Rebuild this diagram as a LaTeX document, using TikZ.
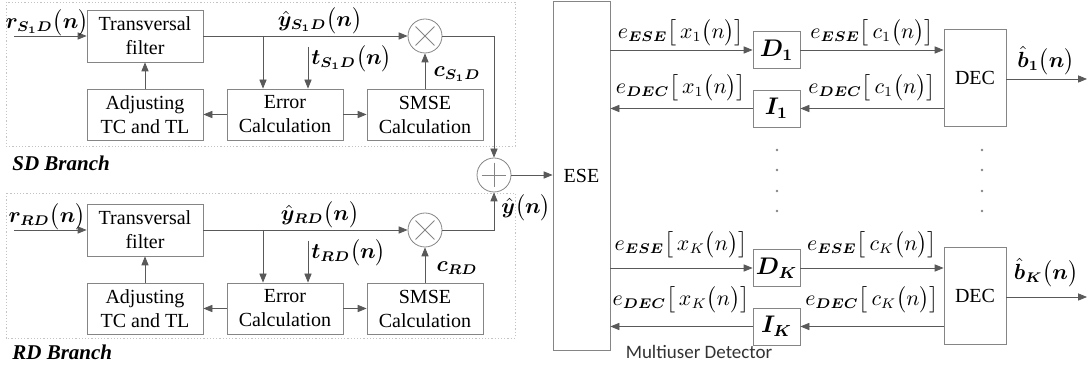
\documentclass[tikz,border=0pt]{standalone}
\usepackage{amsmath}
\usepackage{bm}
\usepackage{fontspec}
\setmainfont{Liberation Serif}
\newfontfamily\mudfont{Carlito}
\usetikzlibrary{positioning, arrows.meta}
\definecolor{wire}{HTML}{595959}
\definecolor{edge}{HTML}{858585}
\definecolor{frame}{HTML}{C4C4C4}

\begin{document}
\begin{tikzpicture}[x=0.5pt,y=-0.5pt,
  blk/.style={draw=edge,fill=white,minimum width=58pt,minimum height=25.5pt,align=center,inner sep=1pt,font=\fontsize{10}{12}\selectfont},
  ublk/.style={draw=edge,fill=white,minimum width=23.5pt,minimum height=18.5pt,inner sep=0pt,font=\fontsize{12}{14}\selectfont},
  op/.style={draw=edge,circle,minimum size=17pt,inner sep=0pt},
  sig/.style={draw=wire,-{Triangle[length=4.5pt,width=3.6pt]}},
  lab/.style={inner sep=0pt,font=\fontsize{10.5}{12}\selectfont},
  brch/.style={anchor=west,inner sep=0pt,font=\fontsize{10.5}{12}\selectfont\bfseries\itshape}]
\useasboundingbox (0,0) rectangle (1089,367);
\draw[frame,dash pattern=on 0.6pt off 1pt] (6,2) rectangle (515,146);
\draw[frame,dash pattern=on 0.6pt off 1pt] (6,193) rectangle (515,338);
\node[brch] (sdb) at (12,163) {SD Branch};
\node[brch] (rdb) at (12,352) {RD Branch};
\node[op] (sum) at (494,175) {};
\draw[edge,shorten <=2.5pt,shorten >=2.5pt] (sum.north) -- (sum.south);
\draw[edge,shorten <=2.5pt,shorten >=2.5pt] (sum.west) -- (sum.east);
\foreach \b/\dy/\s in {S/0/S_1D, R/194/RD} {
  \node[blk,minimum height=26pt] (tf\b) at (145,{36+\dy}) {Transversal\\filter};
  \node[blk] (ad\b) at (145,{114.5+\dy}) {Adjusting\\TC and TL};
  \node[blk] (er\b) at (285,{114.5+\dy}) {Error\\Calculation};
  \node[blk] (sm\b) at (425,{114.5+\dy}) {SMSE\\Calculation};
  \node[op] (mul\b) at (425,{36+\dy}) {};
  \draw[edge,shorten <=2pt,shorten >=2pt] (mul\b.north west) -- (mul\b.south east);
  \draw[edge,shorten <=2pt,shorten >=2pt] (mul\b.north east) -- (mul\b.south west);
  \coordinate (in\b) at (14,{36+\dy});
  \coordinate (tap\b) at (263,{36+\dy});
  \coordinate (t\b) at (308,{47+\dy});
  \draw[sig] (in\b) -- (tf\b.west);
  \draw[sig] (tf\b.east) -- (mul\b.west);
  \draw[sig] (tap\b) -- (tap\b |- er\b.north);
  \draw[sig] (t\b) -- (t\b |- er\b.north);
  \draw[sig] (er\b.west) -- (ad\b.east);
  \draw[sig] (er\b.east) -- (sm\b.west);
  \draw[sig] (ad\b.north) -- (tf\b.south);
  \draw[sig] (sm\b.north) -- (mul\b.south);
  \node[lab] (r\b) at (47,{23+\dy}) {$\bm{r_{\s}}\bigl(\bm{n}\bigr)$};
  \node[lab] (yh\b) at (320,{21+\dy}) {$\hat{\bm{y}}_{\bm{\s}}\bigl(\bm{n}\bigr)$};
  \node[lab,anchor=west] (tl\b) at (311,{59+\dy}) {$\bm{t_{\s}}\bigl(\bm{n}\bigr)$};
  \node[lab] (c\b) at (457,{74+\dy}) {$\bm{c_{\s}}$};
}
\draw[sig] (mulS.east) -| (sum.north);
\draw[sig] (mulR.east) -| (sum.south);
\node[lab] (yh) at (526,208) {$\hat{\bm{y}}\bigl(\bm{n}\bigr)$};
\node[draw=edge,minimum width=28.5pt,minimum height=174.5pt,inner sep=0pt,font=\fontsize{10}{12}\selectfont] (ese) at (581.5,175.5) {ESE};
\draw[sig] (sum.east) -- (sum.east -| ese.west);
\foreach \u/\dy/\ly in {1/0/0, K/218/212} {
  \node[ublk] (D\u) at (776.5,{50+\dy}) {$\bm{D_{\u}}$};
  \node[ublk] (I\u) at (776.5,{108.5+\dy}) {$\bm{I_{\u}}$};
  \node[draw=edge,minimum width=31pt,minimum height=48.5pt,inner sep=0pt,font=\fontsize{10}{12}\selectfont] (dec\u) at (975,{77.5+\dy}) {DEC};
  \coordinate (out\u) at (1087,{79+\dy});
  \draw[sig] (ese.east |- D\u.west) -- (D\u.west);
  \draw[sig] (D\u.east) -- (D\u.east -| dec\u.west);
  \draw[sig] (dec\u.west |- I\u.east) -- (I\u.east);
  \draw[sig] (I\u.west) -- (I\u.west -| ese.east);
  \draw[sig] (dec\u.east |- out\u) -- (out\u);
  \node[lab] (ex\u) at (681,{33+\ly}) {$e_{\bm{ESE}}\bigl[\,x_{\u}\bigl(n\bigr)\bigr]$};
  \node[lab] (ec\u) at (872,{33+\ly}) {$e_{\bm{ESE}}\bigl[\,c_{\u}\bigl(n\bigr)\bigr]$};
  \node[lab] (dx\u) at (681,{88+\ly}) {$e_{\bm{DEC}}\bigl[\,x_{\u}\bigl(n\bigr)\bigr]$};
  \node[lab] (dc\u) at (872,{88+\ly}) {$e_{\bm{DEC}}\bigl[\,c_{\u}\bigl(n\bigr)\bigr]$};
  \node[lab] (bh\u) at (1046,{61+\ly}) {$\hat{\bm{b}}_{\bm{\u}}\bigl(\bm{n}\bigr)$};
}
\foreach \y in {150,170,191,211} {
  \fill[edge] (777,\y) circle (1.3);
  \fill[edge] (982,\y) circle (1.3);
}
\node[inner sep=0pt,text=black!80,font=\fontsize{9.5}{11}\selectfont\mudfont] (mud) at (699,352) {Multiuser Detector};
\end{tikzpicture}
\end{document}
